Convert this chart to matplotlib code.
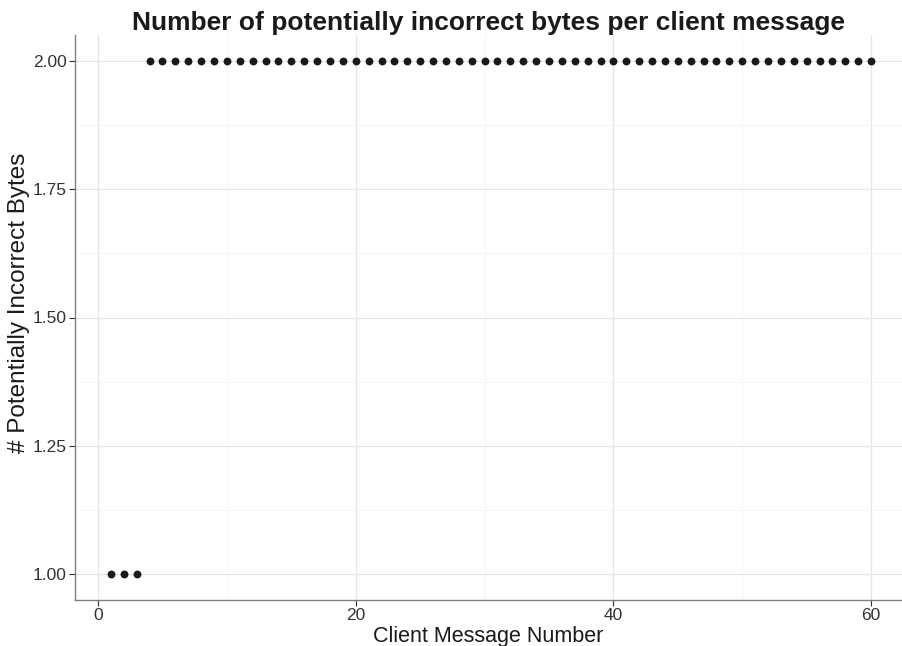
import matplotlib.pyplot as plt
from matplotlib.ticker import MultipleLocator

# data
msg_num = list(range(1, 61))
incorrect_bytes = [1, 1, 1] + [2] * 57

x_ticks = [0, 20, 40, 60]
y_ticks = [1.00, 1.25, 1.50, 1.75, 2.00]
y_tick_labels = ["1.00", "1.25", "1.50", "1.75", "2.00"]

plt.rcParams['font.family'] = ['Liberation Sans', 'DejaVu Sans']

fig = plt.figure(figsize=(9.02, 6.46), dpi=100)
ax = fig.add_axes([75 / 902, 1 - 600 / 646, 827 / 902, 565 / 646])

ax.scatter(msg_num, incorrect_bytes, s=32, color="#1a1a1a", zorder=3, linewidths=0)

ax.set_xlim(-1.79, 62.4)
yr = max(incorrect_bytes) - min(incorrect_bytes)
ax.set_ylim(min(incorrect_bytes) - 0.05 * yr, max(incorrect_bytes) + 0.05 * yr)

ax.set_xticks(x_ticks)
ax.set_yticks(y_ticks)
ax.set_yticklabels(y_tick_labels)
ax.xaxis.set_minor_locator(MultipleLocator(10))
ax.yaxis.set_minor_locator(MultipleLocator(0.125))

ax.grid(which="major", color="#e5e5e5", linewidth=0.9, zorder=0)
ax.grid(which="minor", color="#f4f4f4", linewidth=0.6, zorder=0)
ax.set_axisbelow(True)

for side in ["top", "right"]:
    ax.spines[side].set_visible(False)
for side in ["left", "bottom"]:
    ax.spines[side].set_color("#7f7f7f")
    ax.spines[side].set_linewidth(1.0)

ax.tick_params(which="major", length=4, color="#333333", labelsize=12.5, labelcolor="#333333", pad=2)
ax.tick_params(which="minor", length=0)

ax.set_xlabel("Client Message Number", fontsize=15.5, labelpad=2, color="#1a1a1a")
ax.set_ylabel("# Potentially Incorrect Bytes", fontsize=17.5, color="#1a1a1a")
ax.yaxis.set_label_coords(-0.054, 0.526)
ax.set_title("Number of potentially incorrect bytes per client message",
             fontsize=19, fontweight="bold", pad=3, color="#1a1a1a")

fig.savefig("out.png", dpi=100)
